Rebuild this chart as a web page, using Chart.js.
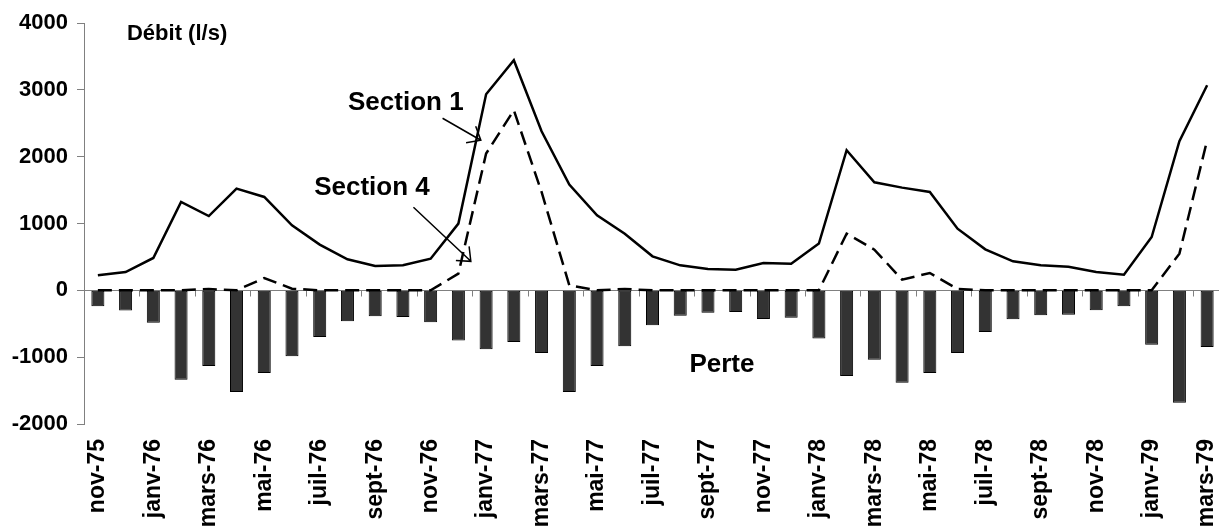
<!DOCTYPE html>
<html><head><meta charset="utf-8">
<script src="https://cdn.jsdelivr.net/npm/chart.js@4/dist/chart.umd.min.js"></script>
<style>html,body{margin:0;padding:0;overflow:hidden;background:#fff;width:1219px;height:527px}canvas{display:block}</style>
</head><body>
<canvas id="c" width="1221" height="527" style="width:1221px;height:527px"></canvas>
<script>
const categories = ['nov-75','déc-75','janv-76','févr-76','mars-76','avr-76','mai-76','juin-76','juil-76','août-76','sept-76','oct-76',
  'nov-76','déc-76','janv-77','févr-77','mars-77','avr-77','mai-77','juin-77','juil-77','août-77','sept-77','oct-77',
  'nov-77','déc-77','janv-78','févr-78','mars-78','avr-78','mai-78','juin-78','juil-78','août-78','sept-78','oct-78',
  'nov-78','déc-78','janv-79','févr-79','mars-79'];
const section1 = [225,274,484,1322,1112,1522,1397,973,684,464,364,374,474,998,2934,3443,2380,1582,1123,848,509,374,319,309,409,399,700,2096,1617,1537,1472,923,614,434,374,354,274,234,798,2231,3069];
const section4 = [0,0,0,0,20,0,184,25,0,0,0,0,0,250,2046,2695,1472,75,0,20,0,0,0,0,0,0,0,848,609,160,259,20,0,0,0,0,0,0,0,549,2246];
const perte = [-240,-300,-485,-1337,-1133,-1522,-1238,-988,-699,-464,-389,-399,-479,-749,-883,-774,-938,-1522,-1133,-838,-524,-379,-334,-324,-429,-409,-719,-1283,-1038,-1382,-1238,-938,-624,-434,-374,-364,-299,-240,-813,-1681,-849];
const yTicks = [-2000,-1000,0,1000,2000,3000,4000];

const FONT = "'Liberation Sans', Arial, sans-serif";

const decor = {
  id: 'decor',
  beforeDatasetsDraw(chart) {
    const {ctx, chartArea, scales} = chart;
    const x = scales.x, y = scales.y;
    const y0 = Math.round(y.getPixelForValue(0)) + 0.5;
    ctx.save();
    ctx.strokeStyle = '#808080';
    ctx.lineWidth = 1;
    ctx.beginPath();
    ctx.moveTo(chartArea.left, y0);
    ctx.lineTo(chartArea.right, y0);
    const half = (x.getPixelForValue(1) - x.getPixelForValue(0)) / 2;
    for (let i = 0; i <= categories.length; i += 2) {
      const px = Math.round(x.getPixelForValue(i) - half) + 0.5;
      ctx.moveTo(px, y0);
      ctx.lineTo(px, y0 + 6);
    }
    ctx.stroke();
    ctx.restore();
  },
  afterDatasetsDraw(chart) {
    const {ctx, scales} = chart;
    const x = scales.x, y = scales.y;
    const P = (i, v) => [x.getPixelForValue(i), y.getPixelForValue(v)];
    ctx.save();
    ctx.fillStyle = '#000';
    ctx.textBaseline = 'alphabetic';
    ctx.textAlign = 'left';
    ctx.font = 'bold 22px ' + FONT;
    let p = P(1.05, 3743); ctx.fillText('Débit (l/s)', p[0], p[1]);
    ctx.font = 'bold 26px ' + FONT;
    p = P(9.02, 2695); ctx.fillText('Section 1', p[0], p[1]);
    p = P(7.80, 1422); ctx.fillText('Section 4', p[0], p[1]);
    p = P(21.33, -1228); ctx.fillText('Perte', p[0], p[1]);
    const arrow = (a, b) => {
      const [x1, y1] = a, [x2, y2] = b;
      const ang = Math.atan2(y1 - y2, x1 - x2);
      const L = 15, d = 40 * Math.PI / 180;
      ctx.beginPath();
      ctx.moveTo(x1, y1); ctx.lineTo(x2, y2);
      ctx.moveTo(x2 + L * Math.cos(ang + d), y2 + L * Math.sin(ang + d));
      ctx.lineTo(x2, y2);
      ctx.lineTo(x2 + L * Math.cos(ang - d), y2 + L * Math.sin(ang - d));
      ctx.stroke();
    };
    ctx.strokeStyle = '#000';
    ctx.lineWidth = 1.5;
    arrow(P(12.43, 2575), P(13.81, 2246));
    arrow(P(11.38, 1243), P(13.45, 434));
    ctx.restore();
  }
};

new Chart(document.getElementById('c'), {
  data: {
    labels: categories,
    datasets: [
      {type: 'line', label: 'Section 1', data: section1, borderColor: '#000', borderWidth: 2.5, pointRadius: 0, tension: 0, fill: false, order: 1},
      {type: 'line', label: 'Section 4', data: section4, borderColor: '#000', borderWidth: 2.5, borderDash: [14, 7], pointRadius: 0, tension: 0, fill: false, order: 2},
      {type: 'bar', label: 'Perte', data: perte, backgroundColor: '#333333', borderColor: '#000', borderWidth: 1, borderSkipped: false, barPercentage: 0.47, categoryPercentage: 1, order: 3}
    ]
  },
  options: {
    responsive: false,
    devicePixelRatio: 1,
    animation: false,
    layout: {padding: {top: 23, right: 0, bottom: 0, left: 0}},
    plugins: {legend: {display: false}, tooltip: {enabled: false}},
    scales: {
      x: {
        type: 'category',
        offset: true,
        grid: {display: false},
        border: {display: false},
        ticks: {
          autoSkip: false, minRotation: 90, maxRotation: 90, padding: 7,
          color: '#000', font: {family: FONT, size: 23, weight: 'bold'},
          callback: (v, i) => (i % 2 === 0 ? categories[i] : '')
        },
        afterFit: (s) => { s.height = 103; s.paddingLeft = 0; s.paddingRight = 0; }
      },
      y: {
        min: -2000, max: 4000,
        afterBuildTicks: (s) => { s.ticks = yTicks.map(v => ({value: v})); },
        grid: {drawOnChartArea: false, drawTicks: true, tickLength: 7, color: '#808080'},
        border: {display: true, color: '#808080'},
        ticks: {color: '#000', padding: 9, font: {family: FONT, size: 22, weight: 'bold'},
          callback: (v) => String(v)},
        afterFit: (s) => { s.width = 84; s.paddingTop = 0; s.paddingBottom = 0; }
      }
    }
  },
  plugins: [decor]
});
</script>
</body></html>
